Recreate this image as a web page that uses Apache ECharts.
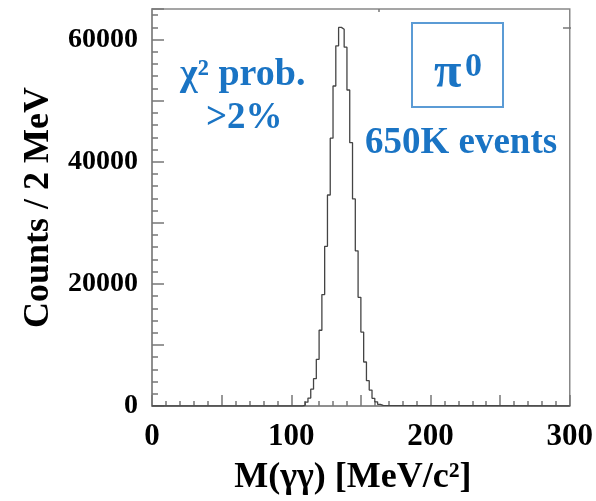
<!DOCTYPE html>
<html>
<head>
<meta charset="utf-8">
<script src="https://cdn.jsdelivr.net/npm/echarts@6/dist/echarts.min.js"></script>
<style>
  html, body { margin: 0; padding: 0; background: #fff; }
  #chart { width: 596px; height: 501px; }
</style>
</head>
<body>
<div id="chart"></div>
<script>
// Two-photon invariant mass, 2 MeV bins (bin low edges in MeV/c^2)
const binWidth = 2;
const binLow = [108, 110, 112, 114, 116, 118, 120, 122, 124, 126, 128, 130, 132, 134,
                136, 138, 140, 142, 144, 146, 148, 150, 152, 154, 156, 158, 160, 162, 164];
const counts = [110, 620, 1300, 2750, 4480, 7650, 12400, 18250, 26150, 34550, 43850, 52390, 58970, 61990,
                61670, 58750, 51740, 43120, 33900, 25400, 17800, 12100, 7200, 4150, 2600, 1250, 680, 270, 100];

const xRange = [0, 300];
const yRange = [0, 65000];
const xLabelValues = [0, 100, 200, 300];
const yLabelValues = [0, 20000, 40000, 60000];

const serif = "'Liberation Serif', 'Times New Roman', serif";
const blue = '#1a74c4';

// Step outline of the histogram: flat at each bin count, dropping to zero outside
const histPoints = [[xRange[0], 0]];
binLow.forEach((lo, i) => histPoints.push([lo, counts[i]]));
histPoints.push([binLow[binLow.length - 1] + binWidth, 0]);
histPoints.push([xRange[1], 0]);

const chart = echarts.init(document.getElementById('chart'), null, { renderer: 'canvas' });

chart.setOption({
  animation: false,
  backgroundColor: '#ffffff',
  grid: {
    left: 152, right: 25, top: 9, bottom: 90,
    show: true, borderColor: '#888', borderWidth: 1.5, backgroundColor: 'transparent'
  },
  xAxis: {
    type: 'value',
    min: xRange[0], max: xRange[1], interval: 50,
    name: 'M(γγ) [MeV/c²]',
    nameLocation: 'middle',
    nameGap: 54,
    nameTextStyle: { fontFamily: serif, fontWeight: 'bold', fontSize: 36, color: '#000', padding: [0, 16, 0, 0] },
    axisLine: { show: true, lineStyle: { color: '#888', width: 1.5 } },
    axisTick: { show: true, inside: true, length: 11, lineStyle: { color: '#777', width: 1.5 } },
    minorTick: { show: true, splitNumber: 5, length: 5, lineStyle: { color: '#777', width: 1.5 } },
    splitLine: { show: false },
    axisLabel: {
      margin: 15,
      fontFamily: serif, fontWeight: 'bold', fontSize: 31, color: '#000',
      formatter: v => (xLabelValues.indexOf(v) >= 0 ? String(v) : '')
    }
  },
  yAxis: {
    type: 'value',
    min: yRange[0], max: yRange[1], interval: 10000,
    name: 'Counts / 2 MeV',
    nameLocation: 'middle',
    nameRotate: 90,
    nameGap: 94,
    nameTextStyle: { fontFamily: serif, fontWeight: 'bold', fontSize: 36, color: '#000' },
    axisLine: { show: true, lineStyle: { color: '#888', width: 1.5 } },
    axisTick: { show: true, inside: true, length: 12, lineStyle: { color: '#777', width: 1.5 } },
    minorTick: { show: true, splitNumber: 5, length: 6, lineStyle: { color: '#777', width: 1.5 } },
    splitLine: { show: false },
    axisLabel: {
      margin: 14,
      fontFamily: serif, fontWeight: 'bold', fontSize: 28, color: '#000',
      formatter: v => (yLabelValues.indexOf(v) >= 0 ? String(v) : '')
    }
  },
  series: [{
    type: 'line',
    step: 'end',
    data: histPoints,
    symbol: 'none',
    lineStyle: { color: '#444', width: 1.3 },
    z: 3
  }],
  graphic: [
    // small ticks on the top and right frame
    { type: 'line', shape: { x1: 379, y1: 9, x2: 379, y2: 12 }, style: { stroke: '#777', lineWidth: 1.5 } },
    { type: 'line', shape: { x1: 563, y1: 28, x2: 571, y2: 28 }, style: { stroke: '#777', lineWidth: 1.5 } },
    // selection note
    { type: 'text', left: 180, top: 56,
      style: { text: 'χ² prob.', font: 'bold 38px ' + serif, fill: blue } },
    { type: 'text', left: 206, top: 100,
      style: { text: '>2%', font: 'bold 37px ' + serif, fill: blue } },
    // particle label in a box
    { type: 'rect', shape: { x: 412, y: 23, width: 91, height: 84 },
      style: { fill: 'transparent', stroke: '#5b9bd5', lineWidth: 2 } },
    { type: 'text', left: 434, top: 49,
      style: { text: 'π', font: 'bold 50px ' + serif, fill: blue } },
    { type: 'text', left: 465, top: 50,
      style: { text: '0', font: 'bold 34px ' + serif, fill: blue } },
    { type: 'text', left: 365, top: 125,
      style: { text: '650K events', font: 'bold 37px ' + serif, fill: blue } }
  ]
});
</script>
</body>
</html>
